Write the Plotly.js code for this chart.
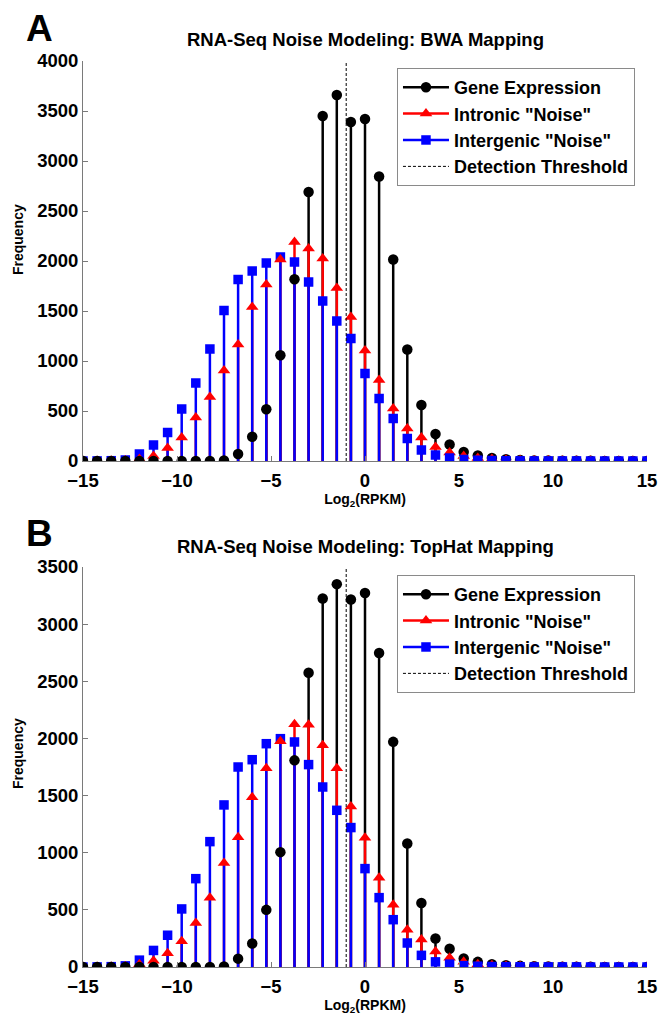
<!DOCTYPE html>
<html>
<head>
<meta charset="utf-8">
<script src="https://cdn.plot.ly/plotly-3.0.1.min.js"></script>
<style>html,body{margin:0;padding:0;background:#fff}</style>
</head>
<body>
<div id="chart" style="width:661px;height:1019px"></div>
<script>
// Bin centres, Log2(RPKM)
const xBins = [-15,-14.25,-13.5,-12.75,-12,-11.25,-10.5,-9.75,-9,-8.25,-7.5,-6.75,-6,-5.25,-4.5,-3.75,-3,-2.25,-1.5,-0.75,0,0.75,1.5,2.25,3,3.75,4.5,5.25,6,6.75,7.5,8.25,9,9.75,10.5,11.25,12,12.75,13.5,14.25,15];

// Panel A: BWA mapping
const geneA     = [0,0,0,0,0,0,0,0,0,0,5,70,243,517,1057,1817,2690,3450,3660,3390,3420,2845,2015,1115,560,270,165,90,55,30,18,10,6,4,3,2,2,1,1,1,0];
const intronicA = [0,0,2,5,20,50,130,235,435,640,905,1165,1540,1765,2015,2190,2125,2025,1730,1440,1105,810,525,325,235,140,85,50,30,20,12,8,5,4,3,2,2,1,1,1,0];
const intergenicA = [0,1,3,10,70,160,285,520,780,1120,1505,1815,1900,1980,2040,1990,1790,1600,1400,1225,875,625,425,225,110,60,30,15,8,5,3,2,1,1,1,1,0,0,0,0,0];

// Panel B: TopHat mapping
const geneB     = [0,0,0,0,0,0,0,0,0,0,5,73,205,500,1005,1808,2575,3225,3350,3215,3272,2748,1970,1080,560,250,160,75,45,25,15,10,6,4,3,2,2,1,1,1,0];
const intronicB = [0,0,2,5,25,55,120,225,385,605,910,1135,1485,1740,1975,2125,2120,1940,1740,1405,1130,780,545,325,240,135,80,45,25,15,10,6,4,3,2,2,1,1,1,1,0];
const intergenicB = [0,1,3,10,60,145,278,508,773,1097,1418,1750,1814,1954,1998,1969,1771,1575,1371,1220,861,607,414,210,102,45,25,12,7,4,3,2,1,1,1,1,0,0,0,0,0];

const detectionThreshold = -1;
const seriesNames = ['Gene Expression', 'Intronic "Noise"', 'Intergenic "Noise"', 'Detection Threshold'];
const panelTitles = ['RNA-Seq Noise Modeling: BWA Mapping', 'RNA-Seq Noise Modeling: TopHat Mapping'];
const panelLetters = ['A', 'B'];
const xTitle = 'Log<sub>2</sub>(RPKM)';
const yTitle = 'Frequency';
const xTickVals = [-15,-10,-5,0,5,10,15];
const yTicksA = [0,500,1000,1500,2000,2500,3000,3500,4000];
const yTicksB = [0,500,1000,1500,2000,2500,3000,3500];
const xRange = [-15, 15];
const yRangeA = [0, 4000];
const yRangeB = [0, 3500];

const FONT = 'Liberation Sans, Arial, Helvetica, sans-serif';
const AXC = '#7a7a7a';
const colors = ['#000000', '#ff0000', '#0000ff'];
const symbols = ['circle', 'triangle-up', 'square'];
const msizes = [10.5, 11, 9.5];

function stemXY(xs, ys) {
  const sx = [], sy = [];
  for (let i = 0; i < xs.length; i++) {
    sx.push(xs[i], xs[i], null);
    sy.push(0, ys[i], null);
  }
  return {sx, sy};
}

function subset(xs, ys, test) {
  const ox = [], oy = [];
  for (let i = 0; i < xs.length; i++) if (test(xs[i])) { ox.push(xs[i]); oy.push(ys[i]); }
  return {ox, oy};
}

const traces = [];
function addPanel(series, xa, ya, legendId, yMax) {
  series.forEach((s, k) => {
    const {sx, sy} = stemXY(xBins, s);
    traces.push({x: sx, y: sy, xaxis: xa, yaxis: ya, mode: 'lines', type: 'scatter',
      line: {color: colors[k], width: 2.5}, showlegend: false, hoverinfo: 'skip'});
  });
  const leftOrder = [2, 1, 0], rightOrder = [0, 1, 2];
  leftOrder.forEach(k => {
    const {ox, oy} = subset(xBins, series[k], v => v < 0);
    traces.push({x: ox, y: oy, xaxis: xa, yaxis: ya, mode: 'markers', type: 'scatter',
      marker: {color: colors[k], symbol: symbols[k], size: msizes[k], line: {width: 0}},
      showlegend: false, name: seriesNames[k]});
  });
  rightOrder.forEach(k => {
    const {ox, oy} = subset(xBins, series[k], v => v >= 0);
    traces.push({x: ox, y: oy, xaxis: xa, yaxis: ya, mode: 'markers', type: 'scatter',
      marker: {color: colors[k], symbol: symbols[k], size: msizes[k], line: {width: 0}},
      showlegend: false, name: seriesNames[k]});
  });
  series.forEach((s, k) => {
    traces.push({x: [null], y: [null], xaxis: xa, yaxis: ya, mode: 'lines+markers', type: 'scatter',
      line: {color: colors[k], width: 2.5},
      marker: {color: colors[k], symbol: symbols[k], size: msizes[k]},
      name: seriesNames[k], legend: legendId, legendrank: k + 1, showlegend: true});
  });
  traces.push({x: [detectionThreshold, detectionThreshold], y: [0, yMax], xaxis: xa, yaxis: ya,
    mode: 'lines', type: 'scatter', line: {color: '#000', width: 1, dash: '3px,2px'},
    name: seriesNames[3], legend: legendId, legendrank: 4, showlegend: true, hoverinfo: 'skip'});
}

addPanel([geneA, intronicA, intergenicA], 'x', 'y', 'legend', yRangeA[1]);
addPanel([geneB, intronicB, intergenicB], 'x2', 'y2', 'legend2', yRangeB[1]);

const tickFont = {family: FONT, size: 18.5, color: '#000', weight: 'bold'};
const axTitleFont = {family: FONT, size: 14, color: '#000', weight: 'bold'};

function xAxis(anchor) {
  return {anchor, domain: [0, 1], range: xRange, tickvals: xTickVals, ticks: 'inside', ticklen: 5,
    tickcolor: AXC, showline: true, linecolor: AXC, linewidth: 1, showgrid: false, zeroline: false,
    tickfont: tickFont, ticklabelstandoff: 3,
    title: {text: xTitle, font: axTitleFont, standoff: 0}};
}
function yAxis(anchor, domain, range, ticks) {
  return {anchor, domain, range, tickvals: ticks, ticks: 'inside', ticklen: 5, tickcolor: AXC,
    showline: true, linecolor: AXC, linewidth: 1, showgrid: false, zeroline: false,
    tickfont: tickFont};
}
function legendCfg(y) {
  return {x: 0.5567, y, xanchor: 'left', yanchor: 'top', bgcolor: '#fff', bordercolor: '#8a8a8a',
    borderwidth: 1, font: {family: FONT, size: 18, color: '#000', weight: 'bold'},
    itemwidth: 46, tracegroupgap: 0, traceorder: 'normal'};
}

const titleFont = {family: FONT, size: 18.5, color: '#000', weight: 'bold'};
const letterFont = {family: FONT, size: 37, color: '#000', weight: 'bold'};

const layout = {
  width: 661, height: 1019,
  margin: {l: 83, r: 14, t: 61, b: 52},
  paper_bgcolor: '#fff', plot_bgcolor: '#fff',
  showlegend: true,
  xaxis: xAxis('y'),
  yaxis: yAxis('x', [0.5585, 1], yRangeA, yTicksA),
  xaxis2: xAxis('y2'),
  yaxis2: yAxis('x2', [0, 0.4415], yRangeB, yTicksB),
  legend: legendCfg(0.9923),
  legend2: legendCfg(0.4327),
  annotations: [
    {text: panelTitles[0], xref: 'paper', yref: 'paper', x: 0.5, y: 1.0232, xanchor: 'center', yanchor: 'middle',
     showarrow: false, font: titleFont},
    {text: panelTitles[1], xref: 'paper', yref: 'paper', x: 0.5, y: 0.4636, xanchor: 'center', yanchor: 'middle',
     showarrow: false, font: titleFont},
    {text: panelLetters[0], xref: 'paper', yref: 'paper', x: -0.1046, y: 1.0362, xanchor: 'left', yanchor: 'middle',
     showarrow: false, font: letterFont},
    {text: panelLetters[1], xref: 'paper', yref: 'paper', x: -0.1046, y: 0.4785, xanchor: 'left', yanchor: 'middle',
     showarrow: false, font: letterFont},
    {text: yTitle, xref: 'paper', yref: 'paper', x: -0.1152, y: 0.8024, xanchor: 'center', yanchor: 'middle',
     textangle: -90, showarrow: false, font: axTitleFont},
    {text: yTitle, xref: 'paper', yref: 'paper', x: -0.1152, y: 0.2351, xanchor: 'center', yanchor: 'middle',
     textangle: -90, showarrow: false, font: axTitleFont}
  ]
};

Plotly.newPlot('chart', traces, layout, {displayModeBar: false, staticPlot: true});
</script>
</body>
</html>
